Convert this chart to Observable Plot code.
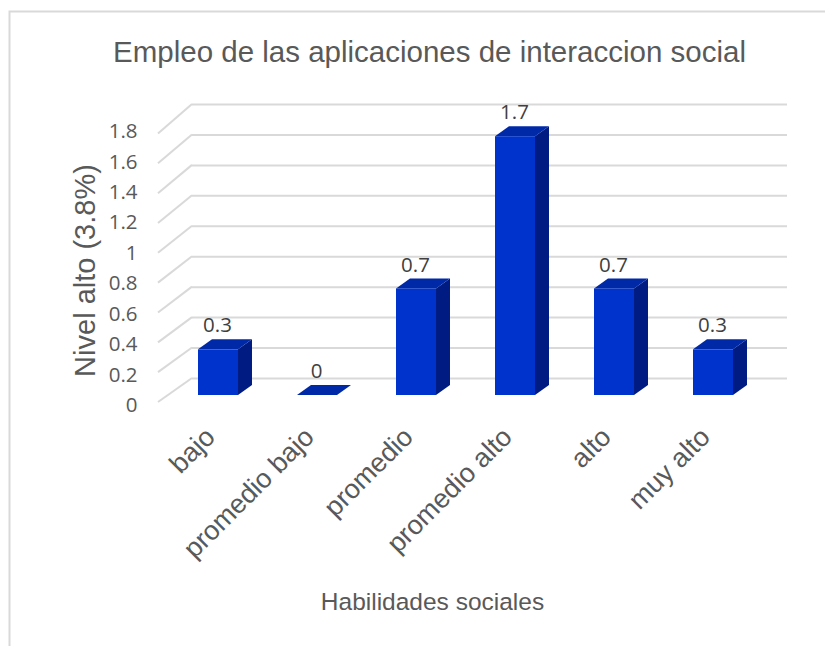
<!DOCTYPE html>
<html>
<head>
<meta charset="utf-8">
<script src="https://cdn.jsdelivr.net/npm/d3@7"></script>
<script src="https://cdn.jsdelivr.net/npm/@observablehq/plot@0.6"></script>
<style>
  html, body { margin: 0; padding: 0; background: #ffffff; }
  #chart { width: 825px; height: 646px; overflow: hidden; }
</style>
</head>
<body>
<div id="chart"></div>
<script>
// ---- data ----
const categories = ["bajo", "promedio bajo", "promedio", "promedio alto", "alto", "muy alto"];
const values = [0.3, 0, 0.7, 1.7, 0.7, 0.3];
const valueLabels = ["0.3", "0", "0.7", "1.7", "0.7", "0.3"];
const yTicks = [0, 0.2, 0.4, 0.6, 0.8, 1, 1.2, 1.4, 1.6, 1.8];
const yTickLabels = ["0", "0.2", "0.4", "0.6", "0.8", "1", "1.2", "1.4", "1.6", "1.8"];
const chartTitle = "Empleo de las aplicaciones de interaccion social";
const xTitle = "Habilidades sociales";
const yTitle = "Nivel alto (3.8%)";

// ---- style ----
const FRONT = "#0033cc", TOP = "#0029a8", SIDE = "#001c82";
const GRID = "#d9d9d9";
const TEXT = "#595959", LABEL = "#404040";
const SANS = "Liberation Sans, Arial, sans-serif";
const NUM = "Open Sans, Noto Sans, sans-serif";
const FRONT_DY = 17;       // front plane of bars relative to back wall
const DEPTH_DX = 14, DEPTH_DY = -10; // bar depth
const FLOOR_DX = 34, FLOOR_DY = 24, FRONT_SCALE = 0.98;

const rows = categories.map((c, i) => ({cat: c, val: values[i], label: valueLabels[i]}));
const tickRows = yTicks.map((t, i) => ({t, label: yTickLabels[i]}));

function depthMark(...args) {
  const scales = args.find(a => a && typeof a.x === "function" && typeof a.y === "function");
  const dims = args.find(a => a && typeof a.marginLeft === "number");
  const {x, y} = scales;
  const bw = typeof x.bandwidth === "function" ? x.bandwidth() : 40;
  const g = d3.create("svg:g");
  // side wall diagonals (floor perspective)
  const y0 = y(0);
  yTicks.forEach(t => {
    const yb = y(t);
    const yf = y0 + FLOOR_DY + (yb - y0) * FRONT_SCALE;
    g.append("line")
      .attr("x1", dims.marginLeft - FLOOR_DX).attr("y1", yf)
      .attr("x2", dims.marginLeft).attr("y2", yb)
      .attr("stroke", GRID).attr("stroke-width", 2);
  });
  // top & side faces of the bars
  rows.forEach(d => {
    const xl = x(d.cat), xr = xl + bw;
    const yt = y(d.val) + FRONT_DY, yb = y(0) + FRONT_DY;
    if (d.val > 0) {
      g.append("path")
        .attr("d", `M${xr},${yb}L${xr + DEPTH_DX},${yb + DEPTH_DY}L${xr + DEPTH_DX},${yt + DEPTH_DY}L${xr},${yt}Z`)
        .attr("fill", SIDE);
    }
    g.append("path")
      .attr("d", `M${xl},${yt}L${xr},${yt}L${xr + DEPTH_DX},${yt + DEPTH_DY}L${xl + DEPTH_DX},${yt + DEPTH_DY}Z`)
      .attr("fill", TOP);
  });
  return g.node();
}

const chart = Plot.plot({
  width: 825,
  height: 646,
  marginLeft: 192,
  marginRight: 38,
  marginTop: 104,
  marginBottom: 268,
  style: {background: "#ffffff", fontFamily: SANS},
  x: {type: "band", domain: categories, range: [168.5, 762.5], paddingInner: 0.596, paddingOuter: 0.298, align: 0.5, round: false, axis: null},
  y: {domain: [0, 1.8], range: [378, 104], axis: null},
  marks: [
    Plot.frame({stroke: GRID, strokeWidth: 2, insetLeft: -183, insetTop: -93, insetRight: -60, insetBottom: -300}),
    Plot.ruleY(tickRows, {y: "t", stroke: GRID, strokeWidth: 2}),
    depthMark,
    Plot.barY(rows, {x: "cat", y: "val", dy: FRONT_DY, fill: FRONT}),
    // value labels
    Plot.text(rows, {x: "cat", y: "val", text: "label", lineAnchor: "middle", dy: -7, dx: -1, fontSize: 20.5, fontFamily: NUM, fill: LABEL}),
    // y tick labels
    Plot.text(tickRows, {y: "t", text: "label", frameAnchor: "left", lineAnchor: "middle", textAnchor: "end", dx: -55, dy: 27, fontSize: 20.5, fontFamily: NUM, fill: TEXT}),
    // category labels
    Plot.text(rows, {x: "cat", text: "cat", frameAnchor: "bottom", lineAnchor: "middle", textAnchor: "end", rotate: -45, dx: -8, dy: 54, fontSize: 27, fontFamily: SANS, fill: TEXT}),
    // titles
    Plot.text([chartTitle], {text: d => d, frameAnchor: "top-left", lineAnchor: "middle", textAnchor: "middle", dx: 237, dy: -52, fontSize: 29.5, fontFamily: SANS, fill: TEXT}),
    Plot.text([xTitle], {text: d => d, frameAnchor: "top-left", lineAnchor: "middle", textAnchor: "middle", dx: 240, dy: 498, fontSize: 24.5, fontFamily: SANS, fill: TEXT}),
    Plot.text([yTitle], {text: d => d, frameAnchor: "top-left", lineAnchor: "middle", textAnchor: "middle", rotate: -90, dx: -107, dy: 166, fontSize: 29, fontFamily: SANS, fill: TEXT})
  ]
});
document.getElementById("chart").appendChild(chart);
</script>
</body>
</html>
